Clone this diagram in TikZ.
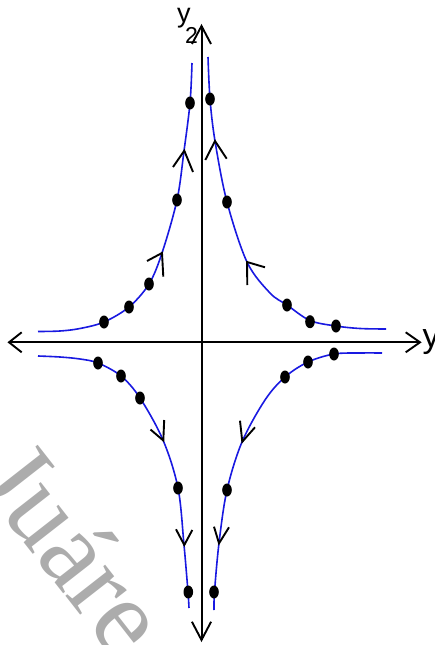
\documentclass[tikz,border=0pt]{standalone}
\usepackage{fontspec}
\setmainfont{Liberation Serif}
\newfontfamily\labelfont{Liberation Sans}
\definecolor{curveblue}{RGB}{25,25,225}
\definecolor{wmgray}{RGB}{172,172,172}
\begin{document}
\begin{tikzpicture}[x=1pt,y=-1pt,
  axis/.style={line width=2pt,black},
  orbit/.style={line width=1.6pt,curveblue},
  vtip/.style={line width=1.9pt,black,line join=miter},
  dotmark/.style={fill=black},
  wm/.style={text=wmgray,font=\fontsize{110}{110}\selectfont,inner sep=0pt,rotate=-52,anchor=base west},
  axlabel/.style={anchor=base west,inner sep=0pt}]
\useasboundingbox (0,0) rectangle (434,645);
\clip (0,0) rectangle (434,645);

% watermark
\node[wm] (watermark) at (-77,414) {u Juáre};

% axes
\coordinate (xl) at (9,342.3);
\coordinate (xr) at (420,342.3);
\coordinate (yt) at (201.5,26);
\coordinate (yb) at (201.5,640);
\draw[axis] (xl) -- (xr);
\draw[axis] (yt) -- (yb);
\draw[vtip] (xl) ++(12.7,-10) -- (xl) -- ++(12.7,10);
\draw[vtip] (xr) ++(-14.3,-10) -- (xr) -- ++(-14.3,10);
\draw[vtip] (yt) ++(-9.5,18) -- (yt) -- ++(9.5,18);
\draw[vtip] (yb) ++(-9.6,-18.3) -- (yb) -- ++(9.6,-18.3);

% labels
\node[axlabel,font=\labelfont\fontsize{27}{27}\selectfont] (ylab2) at (177,22.3)
  {y\kern-5.5pt\raisebox{-21pt}{\fontsize{23}{23}\selectfont 2}};
\node[axlabel,font=\labelfont\fontsize{34}{34}\selectfont] (ylab1) at (422.5,347.7)
  {y\kern-6pt\raisebox{-20pt}{\fontsize{26}{26}\selectfont 1}};

% orbits
\draw[orbit] plot[smooth,tension=0.55] coordinates {(38,331.5) (60,331) (80,328.5) (104,322) (129,307) (149,284) (162,253) (177,200) (184,151) (190,103) (192,63)};
\draw[orbit] plot[smooth,tension=0.55] coordinates {(208,57) (210,99) (215,141) (227,202) (247,262) (270,293) (287,305) (310,320.5) (336,326) (360,328.5) (386,329)};
\draw[orbit] plot[smooth,tension=0.55] coordinates {(38,356) (60,357) (80,359) (98,363) (121,376) (140,398) (163,440) (178,488) (184,545) (188,592) (189,608)};
\draw[orbit] plot[smooth,tension=0.55] coordinates {(214,610) (214.5,592) (219,543) (227,490) (242,442) (265,400) (285,377) (308,362) (334,354) (360,353) (382,353)};

% direction arrows on orbits
\draw[vtip] (147,261) -- (162,253) -- (163.3,276.7);
\draw[vtip] (173,167) -- (184.3,150.7) -- (193,172);
\draw[vtip] (205.3,160) -- (215,141) -- (226.7,158.7);
\draw[vtip] (247.3,285) -- (247,262) -- (265,267.3);
\draw[vtip] (150.5,429.5) -- (163.3,440.5) -- (164.2,420);
\draw[vtip] (176,529.3) -- (184.3,545) -- (192.3,530);
\draw[vtip] (240,420.7) -- (242.3,441.7) -- (255,427.3);
\draw[vtip] (214,526.7) -- (219,543.3) -- (229,527.3);

% points on orbits
\foreach \p in {(190,103),(177,200),(149,284),(129,307),(104,322),
                (210,99),(227,202),(287,305),(310,321.7),(336,326),
                (98,363),(121,376),(140,398),(178,488),(188.3,592),
                (214,592),(227,490),(285,377),(308,362),(334,354)}
  \fill[dotmark] \p ellipse [x radius=4.8, y radius=6.5];
\end{tikzpicture}
\end{document}
